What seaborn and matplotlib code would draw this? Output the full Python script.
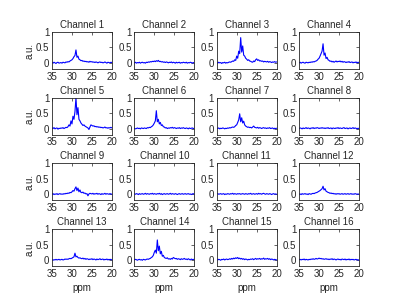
import seaborn as sns
import matplotlib
matplotlib.use("Agg")
import matplotlib.pyplot as plt

# chemical shift axis (ppm), 35 -> 20
ppm = [35, 34.75, 34.5, 34.25, 34, 33.75, 33.5, 33.25, 33, 32.75,
       32.5, 32.25, 32, 31.75, 31.5, 31.25, 31, 30.75, 30.5, 30.25,
       30, 29.75, 29.5, 29.25, 29, 28.75, 28.5, 28.25, 28, 27.75,
       27.5, 27.25, 27, 26.75, 26.5, 26.25, 26, 25.75, 25.5, 25.25,
       25, 24.75, 24.5, 24.25, 24, 23.75, 23.5, 23.25, 23, 22.75,
       22.5, 22.25, 22, 21.75, 21.5, 21.25, 21, 20.75, 20.5, 20.25, 20]

ch1 = [0.01, -0.01, 0.02, 0.00, -0.02, 0.01, 0.02, -0.01, 0.00, 0.01,
       -0.01, 0.02, 0.01, 0.00, 0.03, 0.02, 0.04, 0.03, 0.06, 0.08,
       0.10, 0.14, 0.20, 0.24, 0.42, 0.18, 0.22, 0.12, 0.10, 0.07,
       0.08, 0.05, 0.06, 0.04, 0.05, 0.03, 0.04, 0.02, 0.05, 0.03,
       0.04, 0.02, 0.03, 0.01, 0.03, 0.02, 0.00, 0.02, 0.03, 0.01,
       0.02, 0.00, 0.01, 0.03, 0.01, -0.01, 0.02, 0.01, 0.00, 0.02, 0.01]
ch2 = [0.00, 0.02, -0.01, 0.01, 0.00, 0.02, -0.01, 0.01, 0.02, 0.00,
       0.01, -0.01, 0.02, 0.01, 0.03, 0.02, 0.04, 0.03, 0.05, 0.04,
       0.06, 0.04, 0.07, 0.05, 0.08, 0.04, 0.05, 0.03, 0.04, 0.02,
       0.03, 0.01, 0.03, 0.02, 0.00, 0.02, 0.01, 0.03, 0.00, 0.02,
       0.01, -0.01, 0.02, 0.00, 0.01, 0.02, -0.01, 0.01, 0.00, 0.02,
       0.01, 0.00, 0.02, -0.01, 0.01, 0.00, 0.02, 0.01, -0.01, 0.01, 0.00]
ch3 = [0.01, -0.01, 0.02, 0.00, 0.01, -0.02, 0.01, 0.00, 0.02, -0.01,
       0.01, 0.00, 0.02, 0.03, 0.02, 0.04, 0.06, 0.05, 0.10, 0.08,
       0.22, 0.15, 0.38, 0.30, 0.82, 0.35, 0.55, 0.25, 0.22, 0.15,
       0.12, 0.08, 0.10, 0.06, 0.05, 0.03, 0.02, 0.06, 0.04, 0.10,
       0.13, 0.08, 0.10, 0.06, 0.07, 0.05, 0.06, 0.03, 0.05, 0.04,
       0.03, 0.05, 0.02, 0.04, 0.03, 0.01, 0.03, 0.02, 0.04, 0.02, 0.03]
ch4 = [0.00, 0.02, -0.01, 0.01, 0.02, 0.00, -0.01, 0.02, 0.01, 0.00,
       0.02, 0.01, 0.03, 0.02, 0.04, 0.03, 0.05, 0.06, 0.08, 0.12,
       0.15, 0.22, 0.30, 0.38, 0.62, 0.25, 0.32, 0.14, 0.18, 0.10,
       0.08, 0.05, 0.06, 0.03, 0.05, 0.02, 0.04, 0.06, 0.03, 0.05,
       0.04, 0.06, 0.03, 0.05, 0.02, 0.04, 0.03, 0.01, 0.03, 0.02,
       0.04, 0.01, 0.02, 0.03, 0.00, 0.02, 0.01, 0.03, 0.00, 0.02, 0.01]
ch5 = [0.02, 0.00, 0.03, -0.01, 0.01, 0.02, -0.02, 0.01, 0.00, 0.02,
       0.01, 0.03, 0.00, 0.02, 0.04, 0.03, 0.06, 0.12, 0.08, 0.25,
       0.15, 0.40, 0.30, 0.55, 1.00, 0.45, 0.68, 0.30, 0.25, 0.18,
       0.14, 0.10, 0.12, 0.08, 0.06, 0.04, 0.02, -0.03, 0.05, 0.12,
       0.10, 0.08, 0.09, 0.06, 0.07, 0.05, 0.06, 0.04, 0.05, 0.03,
       0.04, 0.02, 0.03, 0.05, 0.02, 0.03, 0.01, 0.03, 0.02, 0.04, 0.02]
ch6 = [0.01, -0.01, 0.00, 0.02, 0.00, 0.01, -0.01, 0.02, 0.01, 0.00,
       0.02, 0.01, 0.00, 0.03, 0.02, 0.04, 0.03, 0.06, 0.08, 0.12,
       0.18, 0.25, 0.58, 0.22, 0.30, 0.15, 0.20, 0.10, 0.12, 0.06,
       0.05, 0.02, 0.03, 0.00, 0.02, 0.01, 0.03, 0.02, 0.04, 0.01,
       0.03, 0.02, 0.00, 0.02, 0.01, 0.03, 0.00, 0.02, 0.01, 0.03,
       0.01, 0.00, 0.02, 0.01, -0.01, 0.02, 0.00, 0.01, 0.02, 0.00, 0.01]
ch7 = [0.01, 0.00, 0.02, -0.01, 0.01, 0.00, 0.02, 0.01, -0.01, 0.01,
       0.00, 0.02, 0.01, 0.03, 0.02, 0.04, 0.05, 0.04, 0.06, 0.10,
       0.12, 0.20, 0.28, 0.48, 0.22, 0.35, 0.18, 0.24, 0.12, 0.08,
       0.06, 0.04, 0.05, 0.03, 0.04, 0.02, 0.05, 0.08, 0.04, 0.03,
       0.02, 0.04, 0.01, 0.03, 0.02, 0.00, 0.02, 0.03, 0.01, 0.02,
       0.00, 0.02, 0.01, 0.03, 0.00, 0.01, 0.02, -0.01, 0.01, 0.00, 0.01]
ch8 = [0.00, 0.02, 0.01, -0.01, 0.02, 0.00, 0.01, 0.03, 0.00, 0.02,
       0.01, -0.01, 0.02, 0.01, 0.03, 0.00, 0.02, 0.01, 0.03, 0.02,
       0.00, 0.02, 0.01, 0.03, 0.01, 0.02, 0.00, 0.02, 0.01, 0.03,
       0.00, 0.01, 0.02, -0.01, 0.02, 0.01, 0.00, 0.02, 0.01, 0.03,
       0.00, 0.02, 0.01, 0.00, 0.02, 0.03, 0.00, 0.01, 0.02, -0.01,
       0.01, 0.02, 0.00, 0.01, 0.03, 0.00, 0.02, 0.01, -0.01, 0.01, 0.00]
ch9 = [0.00, 0.02, -0.01, 0.01, 0.00, 0.02, -0.01, 0.01, 0.02, 0.00,
       0.01, 0.00, 0.02, 0.01, 0.03, 0.02, 0.04, 0.03, 0.06, 0.05,
       0.08, 0.12, 0.10, 0.18, 0.24, 0.12, 0.20, 0.08, 0.14, 0.06,
       0.05, 0.07, 0.03, 0.04, 0.01, 0.02, -0.05, 0.01, 0.03, 0.02,
       0.01, 0.03, 0.00, 0.02, 0.01, 0.03, 0.00, 0.02, 0.01, -0.01,
       0.02, 0.00, 0.01, 0.03, 0.00, 0.02, 0.01, 0.00, 0.02, 0.01, 0.00]
ch10 = [0.01, 0.00, 0.02, 0.01, -0.01, 0.02, 0.00, 0.01, 0.02, 0.00,
        0.01, 0.03, 0.00, 0.02, 0.01, 0.00, 0.02, 0.01, 0.03, 0.00,
        0.02, 0.01, 0.00, 0.02, 0.01, 0.03, 0.00, 0.02, -0.01, 0.01,
        0.02, 0.00, 0.01, 0.02, 0.00, 0.01, 0.03, 0.00, 0.02, 0.01,
        0.00, 0.02, 0.01, -0.01, 0.01, 0.02, 0.00, 0.01, 0.02, 0.00,
        0.01, 0.02, 0.00, 0.01, 0.02, 0.00, 0.01, -0.01, 0.01, 0.02, 0.00]
ch11 = [0.01, 0.02, 0.00, 0.01, 0.02, 0.00, 0.01, 0.02, -0.01, 0.01,
        0.00, 0.02, 0.01, 0.00, 0.02, 0.01, 0.03, 0.00, 0.02, 0.01,
        0.00, 0.02, 0.01, 0.02, 0.00, 0.01, 0.02, 0.01, 0.00, 0.02,
        0.01, 0.00, 0.02, 0.01, 0.03, 0.00, 0.01, 0.02, 0.00, 0.01,
        0.02, 0.00, 0.03, 0.01, 0.02, 0.00, 0.02, 0.03, 0.01, 0.00,
        0.02, 0.01, 0.00, 0.02, 0.01, -0.01, 0.01, 0.02, 0.00, 0.01, 0.00]
ch12 = [0.00, 0.01, -0.01, 0.02, 0.00, 0.01, 0.02, 0.00, 0.01, -0.01,
        0.02, 0.01, 0.00, 0.02, 0.03, 0.02, 0.04, 0.05, 0.06, 0.08,
        0.10, 0.12, 0.15, 0.18, 0.26, 0.14, 0.18, 0.10, 0.08, 0.06,
        0.05, 0.03, 0.04, 0.02, 0.03, 0.01, 0.02, 0.00, 0.02, 0.01,
        0.02, 0.00, 0.01, 0.02, 0.00, 0.01, 0.02, 0.00, 0.01, 0.02,
        0.00, 0.01, 0.02, 0.00, 0.01, 0.00, 0.02, 0.01, 0.00, 0.01, 0.00]
ch13 = [0.01, -0.01, 0.01, 0.00, 0.02, 0.00, 0.01, 0.02, 0.00, 0.01,
        0.02, 0.00, 0.01, 0.03, 0.02, 0.03, 0.02, 0.04, 0.05, 0.04,
        0.06, 0.08, 0.10, 0.22, 0.10, 0.12, 0.08, 0.06, 0.07, 0.05,
        0.04, 0.06, 0.03, 0.05, 0.02, 0.04, 0.03, 0.01, 0.03, 0.02,
        0.04, 0.01, 0.03, 0.02, 0.00, 0.03, 0.01, 0.02, 0.04, 0.01,
        0.02, 0.03, 0.00, 0.02, 0.01, 0.03, 0.00, 0.02, 0.01, 0.02, 0.00]
ch14 = [0.00, 0.02, 0.01, -0.01, 0.01, 0.02, 0.00, 0.01, -0.01, 0.02,
        0.01, 0.00, 0.02, 0.03, 0.02, 0.04, 0.05, 0.08, 0.10, 0.15,
        0.25, 0.32, 0.22, 0.65, 0.30, 0.45, 0.20, 0.28, 0.12, 0.15,
        0.08, 0.06, 0.05, 0.07, 0.03, 0.04, 0.02, 0.05, 0.03, 0.08,
        0.06, 0.04, 0.05, 0.02, 0.04, 0.03, 0.01, 0.04, 0.02, 0.03,
        0.05, 0.02, 0.03, 0.01, 0.04, 0.02, 0.00, 0.03, 0.01, 0.02, 0.01]
ch15 = [0.01, 0.00, 0.02, 0.01, -0.01, 0.02, 0.01, 0.03, 0.00, 0.02,
        0.03, 0.01, 0.02, 0.04, 0.02, 0.05, 0.03, 0.06, 0.04, 0.07,
        0.05, 0.08, 0.04, 0.06, 0.03, 0.05, 0.02, 0.04, 0.01, 0.03,
        0.02, 0.00, 0.02, 0.01, 0.03, 0.02, 0.04, 0.01, 0.03, 0.05,
        0.02, 0.04, 0.03, 0.05, 0.02, 0.04, 0.03, 0.06, 0.02, 0.04,
        0.03, 0.05, 0.02, 0.04, 0.01, 0.03, 0.02, 0.00, 0.02, 0.01, 0.00]
ch16 = [0.01, 0.02, 0.00, 0.02, 0.01, 0.03, 0.00, 0.02, 0.01, 0.00,
        0.02, 0.01, 0.03, 0.02, 0.04, 0.02, 0.03, 0.05, 0.03, 0.04,
        0.06, 0.04, 0.05, 0.03, 0.04, 0.02, 0.03, 0.04, 0.02, 0.03,
        0.01, 0.03, 0.02, 0.04, 0.01, 0.03, 0.02, 0.00, 0.02, 0.03,
        0.01, 0.02, 0.00, 0.03, 0.02, 0.01, 0.03, 0.00, 0.02, 0.01,
        0.03, 0.00, 0.02, 0.01, 0.02, 0.00, 0.01, 0.02, 0.00, 0.01, -0.01]

channels = [ch1, ch2, ch3, ch4, ch5, ch6, ch7, ch8,
            ch9, ch10, ch11, ch12, ch13, ch14, ch15, ch16]

sns.set_style("white")
plt.rcParams['font.family'] = ['Liberation Sans', 'DejaVu Sans']

fig, axes = plt.subplots(4, 4, figsize=(4, 3), dpi=100)
fig.subplots_adjust(left=0.13, right=0.8975, bottom=0.113, top=0.893,
                    wspace=0.375, hspace=0.78)

for i, ax in enumerate(axes.flat):
    sns.lineplot(x=ppm, y=channels[i], ax=ax, color='blue', linewidth=0.8)
    ax.set_xlim(35, 20)
    ax.set_ylim(-0.2, 1)
    ax.set_xticks([35, 30, 25, 20])
    ax.set_yticks([0, 0.5, 1])
    ax.set_yticklabels(['0', '0.5', '1'])
    ax.tick_params(direction='in', top=True, right=True, length=2,
                   width=0.5, labelsize=7, pad=2)
    for sp in ax.spines.values():
        sp.set_linewidth(0.6)
        sp.set_color('#262626')
    ax.set_title('Channel %d' % (i + 1), fontsize=7, pad=3)
    if i % 4 == 0:
        ax.set_ylabel('a.u.', fontsize=7, labelpad=1)
    if i >= 12:
        ax.set_xlabel('ppm', fontsize=7, labelpad=3)

plt.savefig('out.png', dpi=100)
